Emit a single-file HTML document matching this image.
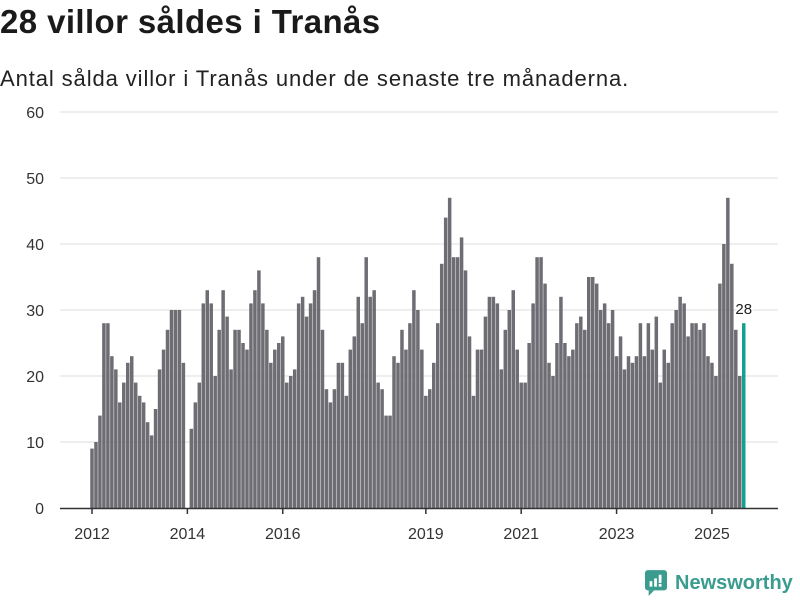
<!DOCTYPE html>
<html><head><meta charset="utf-8">
<style>
body{margin:0;background:#fff;font-family:"Liberation Sans",sans-serif;}
#wrap{position:relative;width:800px;height:600px;overflow:hidden;}
h1{position:absolute;left:0;top:3px;margin:0;font-size:33px;letter-spacing:0.4px;font-weight:bold;color:#1a1a1a;}
p.sub{position:absolute;left:0;top:66px;margin:0;font-size:22px;letter-spacing:0.9px;color:#222;}
</style></head><body>
<div id="wrap">
<h1>28 villor såldes i Tranås</h1>
<p class="sub">Antal sålda villor i Tranås under de senaste tre månaderna.</p>
<svg id="chart" width="800" height="600" style="position:absolute;left:0;top:0"></svg>
<div style="position:absolute;left:645px;top:570px;display:flex;align-items:center;">
<svg width="22" height="26" viewBox="0 0 24 28"><rect x="0" y="0" width="24" height="22" rx="3" fill="#3a9c8f"/><path d="M4 22 L4 28 L10 22Z" fill="#3a9c8f"/><rect x="5" y="12" width="3" height="6" fill="#fff"/><rect x="10" y="9" width="3" height="9" fill="#fff"/><rect x="15" y="5" width="3" height="9" fill="#fff"/><rect x="15" y="15" width="3" height="3" fill="#fff"/></svg>
<span style="font-size:20px;color:#3a9c8f;margin-left:8px;font-weight:bold;">Newsworthy</span>
</div>
</div>
<script>
const values = [9,10,14,28,28,23,21,16,19,22,23,19,
17,16,13,11,15,21,24,27,30,30,30,22,
0,12,16,19,31,33,31,20,27,33,29,21,
27,27,25,24,31,33,36,31,27,22,24,25,
26,19,20,21,31,32,29,31,33,38,27,18,
16,18,22,22,17,24,26,32,28,38,32,33,
19,18,14,14,23,22,27,24,28,33,30,24,
17,18,22,28,37,44,47,38,38,41,36,26,
17,24,24,29,32,32,31,21,27,30,33,24,
19,19,25,31,38,38,34,22,20,25,32,25,
23,24,28,29,27,35,35,34,30,31,28,30,
23,26,21,23,22,23,28,23,28,24,29,19,
24,22,28,30,32,31,26,28,28,27,28,23,
22,20,34,40,47,37,27,20,28];
const yTicks = [0,10,20,30,40,50,60];
const xTickYears = [2012,2014,2016,2019,2021,2023,2025];
const startYear = 2012;

const svg = document.getElementById('chart');
const NS = 'http://www.w3.org/2000/svg';
const x0 = 92, step = 3.974, yBase = 508, yPer = 6.6;
const xScale = i => x0 + i*step;
const yScale = v => yBase - v*yPer;
function mk(tag, attrs){const e=document.createElementNS(NS,tag);for(const k in attrs)e.setAttribute(k,attrs[k]);svg.appendChild(e);return e;}

yTicks.forEach(t=>{
  if(t>0){const g=mk('line',{x1:60,x2:778,y1:yScale(t),y2:yScale(t),stroke:'#dcdcdc','stroke-width':1});
  
  }
  const tx=mk('text',{x:44,y:yScale(t)+6,'text-anchor':'end','font-size':16,fill:'#333','font-family':'Liberation Sans, sans-serif'});
  tx.textContent=t;
  
  
});

values.forEach((v,i)=>{
  const last = i===values.length-1;
  const r=mk('rect',{x:xScale(i)-1.75,y:yScale(v),width:3.5,height:v*yPer,fill:last?'#159e92':'#6e6d73'});
  
  
});

const ax=mk('line',{x1:60,x2:778,y1:yBase+0.5,y2:yBase+0.5,stroke:'#333','stroke-width':1.5});



xTickYears.forEach(yr=>{
  const x=xScale((yr-startYear)*12);
  const tk=mk('line',{x1:x,x2:x,y1:yBase,y2:yBase+6,stroke:'#333','stroke-width':1.5});
  
  
  const tx=mk('text',{x:x,y:539,'text-anchor':'middle','font-size':16,fill:'#333','font-family':'Liberation Sans, sans-serif'});
  tx.textContent=yr;
  
  
});

const li=values.length-1;
const lbl=mk('text',{x:xScale(li),y:yScale(values[li])-9,'text-anchor':'middle','font-size':15,fill:'#222',stroke:'#fff','stroke-width':3,'paint-order':'stroke','font-family':'Liberation Sans, sans-serif'});
lbl.textContent=values[li];


</script>
</body></html>
